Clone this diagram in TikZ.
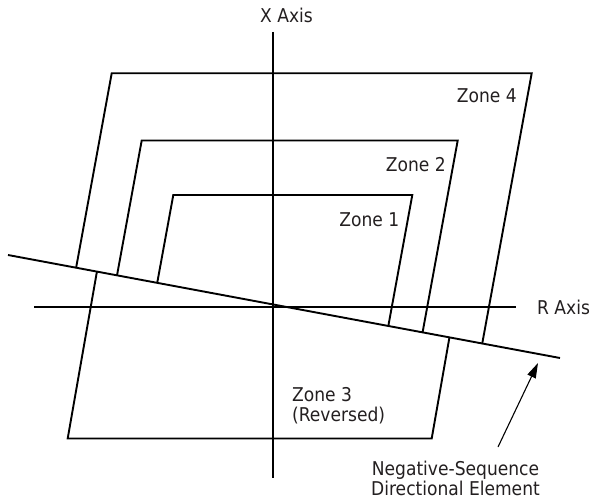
\documentclass[tikz,border=0pt]{standalone}
\usepackage{fontspec}
\setmainfont{DejaVu Sans Condensed}
\usetikzlibrary{arrows.meta,calc}
\definecolor{txt}{RGB}{35,31,32}
\begin{document}
\begin{tikzpicture}[x=1pt,y=-1pt,
  zl/.style={line width=1.9pt, line join=miter},
  lbl/.style={font=\fontsize{19}{20}\selectfont, text=txt, inner sep=0pt},
  arr/.style={line width=1.1pt, -{Triangle[length=15pt,width=9pt]}}]
\useasboundingbox (0,0) rectangle (592,503);
% directional line
\coordinate (dA) at (8,255);
\coordinate (dB) at (560,358);
% axes
\coordinate (xT) at (273,32);
\coordinate (xB) at (273,478);
\coordinate (rL) at (34,307);
\coordinate (rR) at (516,307);
\draw[zl] (xT) -- (xB);
\draw[zl] (rL) -- (rR);
\draw[zl] (dA) -- (dB);
% zone top corners
\coordinate (z4a) at (111.7,73.3);
\coordinate (z4b) at (531.7,73.3);
\coordinate (z2a) at (141.7,140.5);
\coordinate (z2b) at (457.7,140.5);
\coordinate (z1a) at (173.3,195);
\coordinate (z1b) at (412.3,195);
\coordinate (z3a) at (67.7,438.5);
\coordinate (z3b) at (431.7,438.5);
% helper points along the side directions
\coordinate (h4a) at ($(z4a)+(-36.6,200)$);
\coordinate (h4b) at ($(z4b)+(-36.6,200)$);
\coordinate (h2a) at ($(z2a)+(-36.6,200)$);
\coordinate (h2b) at ($(z2b)+(-36.6,200)$);
\coordinate (h1a) at ($(z1a)+(-36.6,200)$);
\coordinate (h1b) at ($(z1b)+(-36.6,200)$);
\coordinate (h3a) at ($(z3a)+(35,-200)$);
\coordinate (h3b) at ($(z3b)+(35,-200)$);
% side end points on directional line
\coordinate (z4c) at (intersection of z4a--h4a and dA--dB);
\coordinate (z4d) at (intersection of z4b--h4b and dA--dB);
\coordinate (z2c) at (intersection of z2a--h2a and dA--dB);
\coordinate (z2d) at (intersection of z2b--h2b and dA--dB);
\coordinate (z1c) at (intersection of z1a--h1a and dA--dB);
\coordinate (z1d) at (intersection of z1b--h1b and dA--dB);
\coordinate (z3c) at (intersection of z3a--h3a and dA--dB);
\coordinate (z3d) at (intersection of z3b--h3b and dA--dB);
\draw[zl] (z4c) -- (z4a) -- (z4b) -- (z4d);
\draw[zl] (z2c) -- (z2a) -- (z2b) -- (z2d);
\draw[zl] (z1c) -- (z1a) -- (z1b) -- (z1d);
\draw[zl] (z3c) -- (z3a) -- (z3b) -- (z3d);
% labels
\node[lbl, anchor=base] (xl) at (286.5,23) {X Axis};
\node[lbl, anchor=base west] (rl) at (537,314) {R Axis};
\node[lbl, anchor=base east] (l4) at (517,102.7) {Zone 4};
\node[lbl, anchor=base east] (l2) at (446,171) {Zone 2};
\node[lbl, anchor=base east] (l1) at (399.5,226) {Zone 1};
\node[lbl, anchor=base west, align=left] (l3) at (292,421.5) {Zone 3\\(Reversed)};
\node[lbl, anchor=base, align=center] (ln) at (455.5,495) {Negative-Sequence\\Directional Element};
% arrow
\coordinate (aS) at (498,447);
\coordinate (aT) at (538,363);
\draw[arr] (aS) -- (aT);
\end{tikzpicture}
\end{document}
